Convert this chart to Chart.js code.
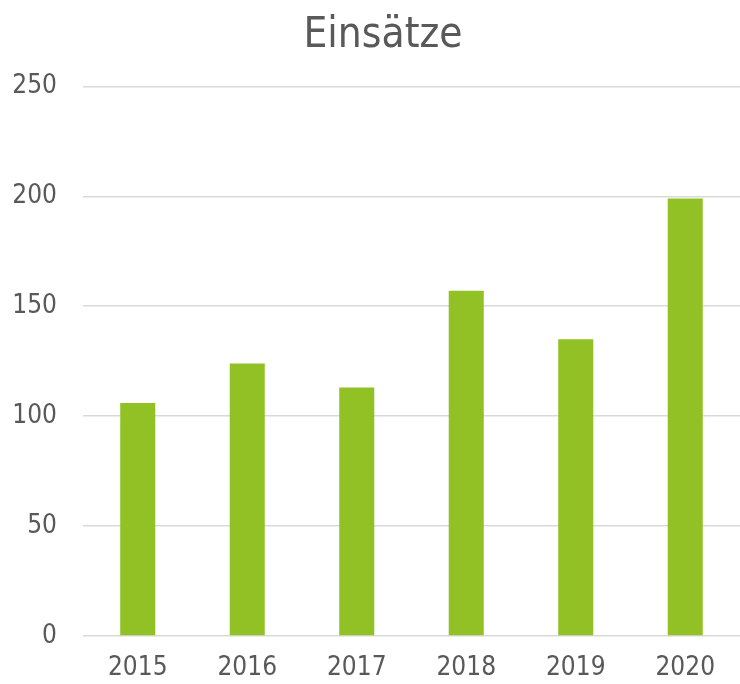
<!DOCTYPE html>
<html>
<head>
<meta charset="utf-8">
<script src="https://cdn.jsdelivr.net/npm/chart.js@4"></script>
<style>
  html, body { margin: 0; padding: 0; background: #fff; }
  #c { display: block; }
</style>
</head>
<body>
<canvas id="c" width="740" height="684"></canvas>
<script>
// data
const years = ['2015', '2016', '2017', '2018', '2019', '2020']
const einsaetze = [106, 124, 113, 157, 135, 199]

const fontName = '"DejaVu Sans Condensed", "DejaVu Sans", sans-serif'
const textColor = '#595959'

let ctx = document.getElementById('c')

// the title in the original sits a bit right of the canvas centre
const shiftTitle = {
    id: 'shiftTitle',
    afterLayout(chart) {
        if (chart.titleBlock) chart.titleBlock.left = 26
    }
}

new Chart(ctx, {
    type: 'bar',
    data: {
        labels: years,
        datasets: [{
            label: 'Einsätze',
            data: einsaetze,
            backgroundColor: '#92c125',
            borderWidth: 0,
            barPercentage: 0.64,
            categoryPercentage: 0.5
        }]
    },
    options: {
        responsive: false,
        animation: false,
        layout: {
            padding: { left: 0, right: 0, top: 11, bottom: 0 }
        },
        plugins: {
            legend: { display: false },
            tooltip: { enabled: false },
            title: {
                display: true,
                text: 'Einsätze',
                color: textColor,
                font: { family: fontName, size: 42, weight: 'normal' },
                padding: { top: 0, bottom: 25 }
            }
        },
        scales: {
            x: {
                grid: { display: false },
                border: { display: false },
                ticks: {
                    color: textColor,
                    font: { family: fontName, size: 26 },
                    padding: 9
                },
                afterFit: (s) => { s.height = 48 }
            },
            y: {
                min: 0,
                max: 250,
                ticks: {
                    stepSize: 50,
                    color: textColor,
                    font: { family: fontName, size: 26 },
                    padding: 26
                },
                grid: {
                    color: '#d9d9d9',
                    lineWidth: 1.5,
                    drawTicks: false
                },
                border: { display: false },
                afterFit: (s) => { s.width = 83 }
            }
        }
    },
    plugins: [shiftTitle]
});
</script>
</body>
</html>
